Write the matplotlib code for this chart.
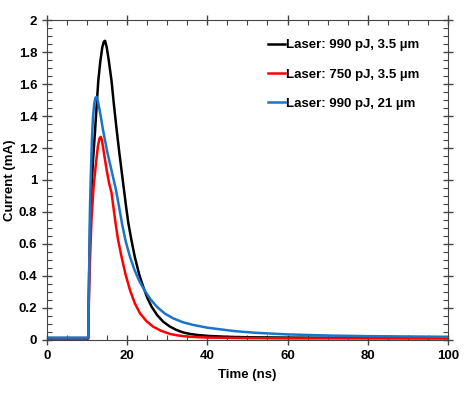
import matplotlib
matplotlib.use('Agg')
import matplotlib.pyplot as plt
from matplotlib.ticker import MultipleLocator, FuncFormatter

plt.rcParams['font.family'] = ['Liberation Sans', 'DejaVu Sans']
plt.rcParams['font.weight'] = 'bold'

# ── data (time in ns, current in mA) ──
t_black = [0, 10.3, 10.5, 10.8, 11.1, 11.5, 12.0, 12.4, 12.8, 13.3, 13.8, 14.2, 14.5, 14.9,
           15.4, 16.1, 16.7, 17.4, 18.0, 18.6, 19.2, 19.7, 20.3, 21.1, 21.9, 23.0, 24.0,
           25.0, 26.1, 27.5, 29.0, 30.6, 32.3, 34.0, 35.7, 38.0, 40.6, 45, 50, 60, 80, 100]
i_black = [0.01, 0.01, 0.4, 0.75, 0.95, 1.13, 1.31, 1.47, 1.62, 1.74, 1.83, 1.865, 1.87, 1.83,
           1.75, 1.62, 1.47, 1.31, 1.18, 1.06, 0.94, 0.84, 0.73, 0.62, 0.52, 0.41, 0.333,
           0.265, 0.208, 0.155, 0.114, 0.085, 0.0625, 0.047, 0.0375, 0.03, 0.025, 0.02, 0.017,
           0.015, 0.013, 0.012]

t_red = [0, 10.3, 10.5, 10.8, 11.1, 11.6, 12.2, 12.7, 13.1, 13.4, 13.7, 14.2, 14.9, 15.5,
         16.1, 17.0, 17.7, 18.6, 19.6, 20.7, 21.9, 23.2, 24.8, 26.5, 28.5, 30.7, 33.0, 35.7,
         40, 50, 60, 100]
i_red = [0.01, 0.01, 0.3, 0.55, 0.75, 0.95, 1.1, 1.21, 1.26, 1.27, 1.25, 1.17, 1.06, 0.98,
         0.92, 0.75, 0.63, 0.52, 0.41, 0.3125, 0.23, 0.167, 0.118, 0.083, 0.057, 0.0375,
         0.027, 0.02, 0.015, 0.012, 0.01, 0.01]

t_blue = [0, 10.3, 10.5, 10.7, 10.9, 11.2, 11.5, 11.8, 12.1, 12.4, 12.8, 13.4, 14.0, 15.0,
          16.1, 17.2, 18.0, 18.7, 19.6, 20.7, 21.8, 23.0, 24.3, 25.8, 27.4, 29.4, 31.5, 34.0,
          36.5, 40, 43.1, 47, 52, 60, 70, 80, 100]
i_blue = [0.015, 0.015, 0.4, 0.8, 1.0, 1.25, 1.4, 1.48, 1.515, 1.52, 1.48, 1.4, 1.31, 1.18,
          1.06, 0.94, 0.83, 0.73, 0.62, 0.52, 0.44, 0.37, 0.3125, 0.255, 0.208, 0.165, 0.135,
          0.11, 0.094, 0.077, 0.067, 0.055, 0.045, 0.035, 0.028, 0.024, 0.02]

labels = ['Laser: 990 pJ, 3.5 µm', 'Laser: 750 pJ, 3.5 µm', 'Laser: 990 pJ, 21 µm']
colors = ['black', '#ff0000', '#1a74c8']

fig = plt.figure(figsize=(4.67, 3.97), dpi=100)
ax = fig.add_axes([0.1006, 0.1436, 0.8584, 0.806])

for t, i, lab, c in zip([t_black, t_red, t_blue], [i_black, i_red, i_blue], labels, colors):
    ax.plot(t, i, color=c, lw=1.8, label=lab)

ax.set_xlim(0, 100)
ax.set_ylim(0, 2)
ax.xaxis.set_major_locator(MultipleLocator(20))
ax.xaxis.set_minor_locator(MultipleLocator(5))
ax.yaxis.set_major_locator(MultipleLocator(0.2))
ax.yaxis.set_minor_locator(MultipleLocator(0.05))
ax.yaxis.set_major_formatter(FuncFormatter(lambda v, p: f'{v:g}'))
ax.tick_params(which='major', direction='inout', length=7, width=1, labelsize=9.5,
               top=True, right=True, color='#444444')
ax.tick_params(which='minor', direction='in', length=3.5, width=0.8,
               top=True, right=True, color='#444444')
for s in ax.spines.values():
    s.set_color('#444444')
for lab in ax.get_xticklabels() + ax.get_yticklabels():
    lab.set_fontweight('bold')

ax.set_xlabel('Time (ns)', fontsize=9.5, fontweight='bold')
ax.set_ylabel('Current (mA)', fontsize=9.5, fontweight='bold')
ax.xaxis.set_label_coords(0.5, -0.09)
ax.yaxis.set_label_coords(-0.077, 0.5)

ax.legend(loc='upper left', bbox_to_anchor=(0.522, 0.978), frameon=False,
          handlelength=1.3, handletextpad=0.05, labelspacing=1.3,
          prop={'weight': 'bold', 'size': 9.5})

fig.savefig('out.png', dpi=100)
